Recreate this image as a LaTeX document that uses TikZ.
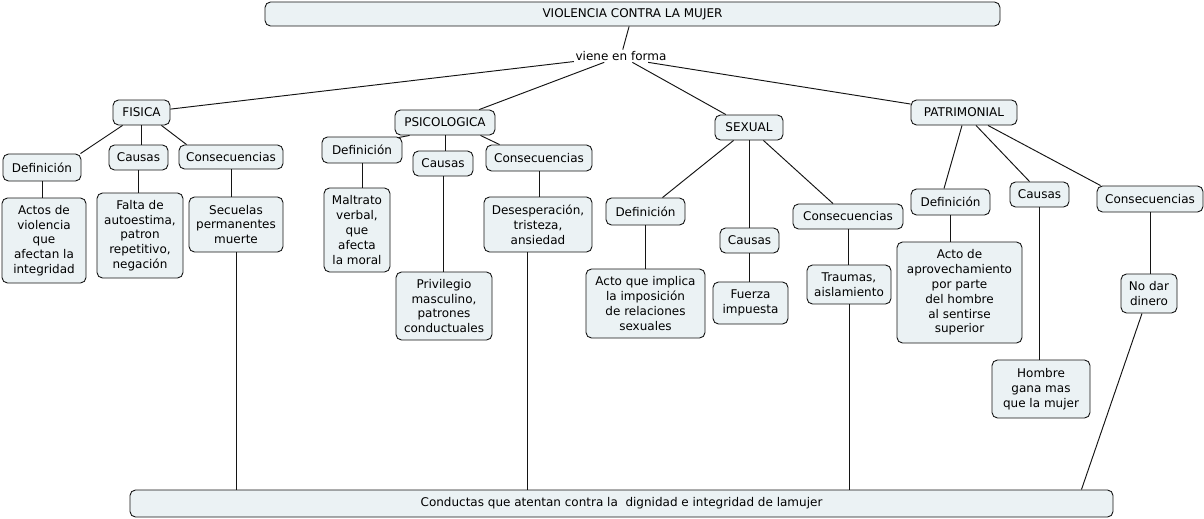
\documentclass[tikz,border=0pt]{standalone}
\usepackage{fontspec}
\setmainfont{DejaVu Sans}
\definecolor{boxfill}{RGB}{235,242,244}
\definecolor{edgecol}{RGB}{20,20,20}
\begin{document}
\begin{tikzpicture}[x=1pt,y=-1pt,
  box/.style={draw=edgecol, line width=0.9pt, rounded corners=5.5pt, fill=boxfill, align=center, inner sep=0pt,
    font=\fontsize{12}{14.8}\selectfont},
  sz/.style 2 args={minimum width=#1pt, minimum height=#2pt},
  link/.style={draw=edgecol, line width=0.95pt}]
\useasboundingbox (0,0) rectangle (1204,519);

% top and label
\node[box, sz={735}{24}] (top) at (632.5,14) {VIOLENCIA CONTRA LA MUJER};
\node[font=\fontsize{12}{14.8}\selectfont, inner sep=1.5pt] (lbl) at (621,56) {viene en forma};

% FISICA
\node[box, sz={57}{25}] (fisica) at (141.5,112.5) {FISICA};
\node[box, sz={78}{27}] (fdef) at (42,167.5) {Definición};
\node[box, sz={59}{25}] (fcau) at (138.5,157.5) {Causas};
\node[box, sz={104}{24}] (fcon) at (231,157) {Consecuencias};
\node[box, sz={84}{85}] (fdeft) at (44,240.5) {Actos de\\violencia\\que\\afectan la\\integridad};
\node[box, sz={86}{85}] (fcaut) at (140,235.5) {Falta de\\autoestima,\\patron\\repetitivo,\\negación};
\node[box, sz={94}{55}] (fcont) at (236,224.5) {Secuelas\\permanentes\\muerte};

% PSICOLOGICA
\node[box, sz={100}{25}] (psic) at (445,122.5) {PSICOLOGICA};
\node[box, sz={80}{26}] (pdef) at (362,150) {Definición};
\node[box, sz={60}{25}] (pcau) at (443,163.5) {Causas};
\node[box, sz={106}{26}] (pcon) at (539,158) {Consecuencias};
\node[box, sz={66}{84}] (pdeft) at (357,230) {Maltrato\\verbal,\\que\\afecta\\la moral};
\node[box, sz={96}{68}] (pcaut) at (444,306) {Privilegio\\masculino,\\patrones\\conductuales};
\node[box, sz={108}{55}] (pcont) at (538,224.5) {Desesperación,\\tristeza,\\ansiedad};

% SEXUAL
\node[box, sz={68}{25}] (sexual) at (749,127.5) {SEXUAL};
\node[box, sz={79}{27}] (sdef) at (645.5,211.5) {Definición};
\node[box, sz={59}{25}] (scau) at (749.5,240.5) {Causas};
\node[box, sz={110}{25}] (scon) at (848,216.5) {Consecuencias};
\node[box, sz={119}{69}] (sdeft) at (645.5,303.5) {Acto que implica\\la imposición\\de relaciones\\sexuales};
\node[box, sz={75}{42}] (scaut) at (750.5,303) {Fuerza\\impuesta};
\node[box, sz={84}{39}] (scont) at (849,284.5) {Traumas,\\aislamiento};

% PATRIMONIAL
\node[box, sz={106}{25}] (patr) at (964,112.5) {PATRIMONIAL};
\node[box, sz={79}{26}] (padef) at (950.5,202) {Definición};
\node[box, sz={59}{25}] (pacau) at (1039.5,194.5) {Causas};
\node[box, sz={106}{26}] (pacon) at (1150,199) {Consecuencias};
\node[box, sz={125}{101}] (padeft) at (959.5,292.5) {Acto de\\aprovechamiento\\por parte\\del hombre\\al sentirse\\superior};
\node[box, sz={98}{58}] (pacaut) at (1041,389) {Hombre\\gana mas\\que la mujer};
\node[box, sz={56}{39}] (pacont) at (1149,293.5) {No dar\\dinero};

% bottom
\node[box, sz={983}{27}] (bottom) at (621.5,503.5) {Conductas que atentan contra la\ \ dignidad e integridad de lamujer};

% connectors: top
\draw[link] (top) -- (lbl);
\draw[link] (lbl) -- (fisica);
\draw[link] (lbl) -- (psic);
\draw[link] (lbl) -- (sexual);
\draw[link] ([xshift=-20pt]lbl.south east) -- (patr);

% FISICA
\draw[link] ([xshift=10pt]fisica.south west) -- ([xshift=-1pt]fdef.north east);
\draw[link] (fisica.south) -- (fisica.south |- fcau.north);
\draw[link] ([xshift=-9pt]fisica.south east) -- ([xshift=8pt]fcon.north west);
\draw[link] (fdef) -- (fdef |- fdeft.north);
\draw[link] (fcau) -- (fcau |- fcaut.north);
\draw[link] (fcon) -- (fcon |- fcont.north);
\draw[link] (fcont) -- (fcont |- bottom.north);

% PSICOLOGICA
\draw[link] ([xshift=15pt]psic.south west) -- ([xshift=-4pt,yshift=-1pt]pdef.north east);
\draw[link] (psic.south) -- (psic.south |- pcau.north);
\draw[link] ([xshift=-15pt]psic.south east) -- ([xshift=14pt]pcon.north west);
\draw[link] (pdef) -- (pdef |- pdeft.north);
\draw[link] (pcau) -- (pcau |- pcaut.north);
\draw[link] (pcon) -- (pcon |- pcont.north);
\draw[link] ([xshift=-11pt]pcont.south) -- ([xshift=-11pt]pcont.south |- bottom.north);

% SEXUAL
\draw[link] ([xshift=19pt]sexual.south west) -- ([xshift=17pt]sdef.north);
\draw[link] (sexual.south) -- (sexual.south |- scau.north);
\draw[link] ([xshift=-20pt]sexual.south east) -- ([xshift=-15pt]scon.north);
\draw[link] (sdef) -- (sdef |- sdeft.north);
\draw[link] (scau) -- (scau |- scaut.north);
\draw[link] (scon) -- (scon |- scont.north);
\draw[link] (scont) -- (scont |- bottom.north);

% PATRIMONIAL
\draw[link] ([xshift=-2pt]patr.south) -- ([xshift=-6.5pt]padef.north);
\draw[link] ([xshift=12pt]patr.south) -- ([xshift=20pt]pacau.north west);
\draw[link] ([xshift=24pt]patr.south) -- ([xshift=4pt]pacon.north west);
\draw[link] (padef) -- (padef |- padeft.north);
\draw[link] (pacau) -- (pacau |- pacaut.north);
\draw[link] (pacon) -- (pacon |- pacont.north);
\draw[link] ([xshift=-7pt]pacont.south) -- ([xshift=-32pt]bottom.north east);
\end{tikzpicture}
\end{document}
